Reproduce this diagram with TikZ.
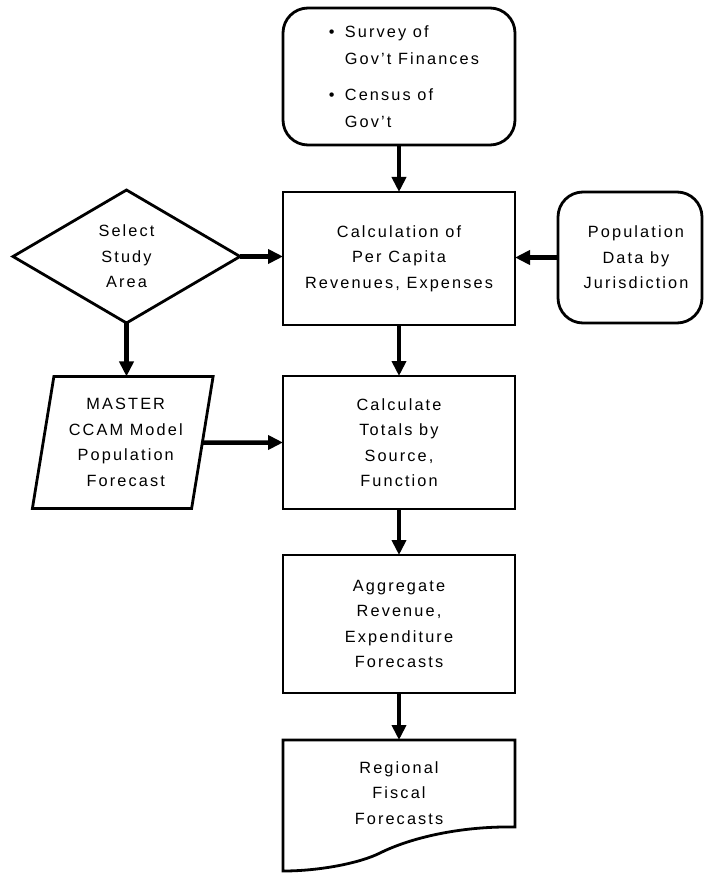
\documentclass[tikz,border=0pt]{standalone}
\usepackage{fontspec}
\setmainfont[LetterSpace=13]{Liberation Sans}
\usetikzlibrary{arrows.meta,shapes.geometric}
\begin{document}
\begin{tikzpicture}[x=1pt,y=-1pt,
  every node/.style={font=\fontsize{16.3}{25.5}\selectfont, align=center, inner sep=0pt, outer sep=0pt},
  stepbox/.style={draw, line width=2.8pt, rectangle, minimum width=232pt, minimum height=133pt},
  roundbox/.style={stepbox, rounded corners=25pt},
  outline/.style={draw, line width=2.8pt},
  arr/.style={line width=4.5pt, -{Triangle[length=15pt,width=14pt]}},
]
\useasboundingbox (0,0) rectangle (704,874);

\node[roundbox, minimum height=137pt, align=left, font=\fontsize{16.3}{27}\selectfont] (src) at (399,76.5)
  {\hspace*{10pt}\makebox[16pt][l]{\textbullet}Survey of\\
   \hspace*{10pt}\hspace*{16pt}Gov't Finances\\[9pt]
   \hspace*{10pt}\makebox[16pt][l]{\textbullet}Census of\\
   \hspace*{10pt}\hspace*{16pt}Gov't};

\node[stepbox] (calc) at (399,258.5) {Calculation of\\Per Capita\\Revenues, Expenses};

\node[roundbox, minimum width=144pt, minimum height=131pt] (pop) at (630,257.5)
  {\hspace*{12pt}Population\\\hspace*{12pt}Data by\\\hspace*{12pt}Jurisdiction};

\node[outline, diamond, aspect=1.7, minimum width=227pt, minimum height=133pt] (sel) at (126.5,256.5)
  {Select\\Study\\Area};

\node[outline, trapezium, trapezium left angle=78, trapezium right angle=102, trapezium stretches=true,
      minimum width=181pt, minimum height=132pt] (par) at (122.75,442.5)
  {\hspace*{6pt}MASTER\\\hspace*{6pt}CCAM Model\\\hspace*{6pt}Population\\\hspace*{6pt}Forecast};

\node[stepbox] (tot) at (399,442.5) {Calculate\\Totals by\\Source,\\Function};

\node[stepbox, minimum height=138pt] (agg) at (399,624) {Aggregate\\Revenue,\\Expenditure\\Forecasts};

\node[minimum width=232pt, minimum height=131pt, text depth=25pt] (reg) at (399,805.5) {Regional\\Fiscal\\Forecasts};
\coordinate (regR) at (515,827);
\coordinate (regM) at (380,853);
\draw[line width=2.8pt] (reg.south west) -- (reg.north west) -- (reg.north east) -- (regR)
  .. controls (460,826) and (410,838) .. (regM)
  .. controls (360,863) and (320,871) .. (reg.south west) -- cycle;

\draw[arr] (src) -- (calc);
\draw[arr] (calc) -- (tot);
\draw[arr] (tot) -- (agg);
\draw[arr] (agg) -- (reg);
\draw[arr] (sel.east) -- (sel.east -| calc.west);
\draw[arr] (pop.west) -- (pop.west -| calc.east);
\draw[arr] (sel.south) -- (sel.south |- par.north);
\draw[arr] (par) -- (tot);
\end{tikzpicture}
\end{document}
